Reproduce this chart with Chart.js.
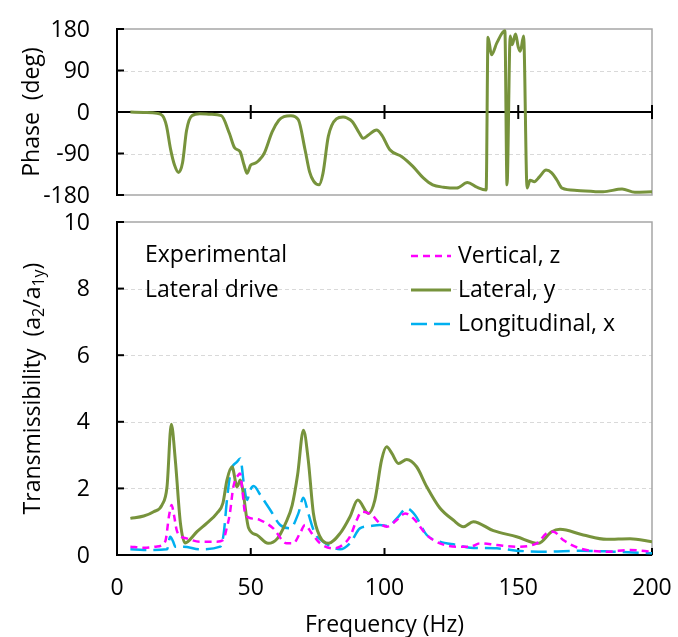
<!DOCTYPE html>
<html>
<head>
<meta charset="utf-8">
<script src="https://cdn.jsdelivr.net/npm/chart.js@4.4.1/dist/chart.umd.min.js"></script>
<style>
  html, body { margin: 0; padding: 0; background: #fff; }
  #wrap { position: relative; width: 678px; height: 637px; }
  canvas { position: absolute; left: 0; }
  #phaseChart { top: 0; }
  #transChart { top: 205px; }
</style>
</head>
<body>
<div id="wrap">
  <canvas id="phaseChart" width="678" height="205"></canvas>
  <canvas id="transChart" width="678" height="432"></canvas>
</div>
<script>
// phase of the lateral response (deg)
const phaseFreq = [5, 10, 15, 17, 18.5, 20, 21.5, 23, 24.5, 26, 28, 31, 35, 39, 42, 44, 46, 47.5, 48.6, 50,
  51.7, 53, 55, 58, 60.5, 62.4, 65, 67.8, 70.3, 72, 73.5, 75.5, 77, 79, 82, 84.5, 86, 88, 90.5, 92,
  94, 97, 99, 102, 106.5, 110.6, 114.5, 118, 122, 127, 131, 134.5, 138, 138.7, 140, 142, 145, 145.8, 147, 147.7,
  149, 150, 150.8, 152, 153.3, 154.4, 156, 158, 160.4, 162.5, 164.5, 166.4, 172, 181.7, 188.8, 193.6, 200];
const phaseDeg = [0, -1, -3, -8, -30, -80, -115, -131, -110, -40, -8, -4, -5, -8, -46, -78, -86, -115, -133, -115,
  -111, -105, -90, -43, -18, -10, -8, -17, -82, -130, -150, -158, -133, -53, -15, -11, -13, -21, -45, -57,
  -50, -39, -50, -82, -97, -118, -143, -158, -163, -165, -153, -163, -169, 162, 124, 150, 176, -158, 165, 146,
  169, 141, 132, 165, -165, -148, -151, -140, -126, -132, -148, -165, -170, -173, -167, -174, -173];

// transmissibility, vertical z
const vertFreq = [5, 10, 14.6, 18, 19.5, 20.4, 21.3, 22.3, 24, 26, 31, 37.3, 39.7, 41, 42.2, 43.5, 45.3, 46, 46.8, 47.9,
  50.3, 53.5, 58.4, 63.4, 65.9, 68.4, 70.3, 72.8, 75.9, 80.9, 83.4, 87.1, 89.6, 91.5, 95.2, 98.3, 100.8, 104.6, 107.7, 110.8,
  115.8, 120.7, 127, 132, 135.7, 142, 149.4, 156.9, 160.6, 163.1, 166.8, 173, 183, 191.8, 200];
const vertT = [0.25, 0.22, 0.25, 0.4, 1.2, 1.5, 1.2, 0.75, 0.55, 0.5, 0.4, 0.4, 0.45, 0.8, 1.25, 2.05, 2.4, 2.45, 2.0, 1.25,
  1.1, 1.05, 0.8, 0.35, 0.35, 0.65, 0.9, 0.65, 0.35, 0.2, 0.25, 0.55, 1.05, 1.3, 1.2, 0.95, 0.85, 1.05, 1.25, 1.1,
  0.6, 0.35, 0.25, 0.25, 0.35, 0.3, 0.25, 0.35, 0.65, 0.7, 0.45, 0.2, 0.1, 0.15, 0.1];

// transmissibility, lateral y
const latFreq = [5, 10, 13.7, 16.8, 18.7, 20.3, 21.8, 23.7, 25.5, 26.5, 29.9, 33.6, 37.4, 39.6, 41.1, 43, 44.9, 46.1, 47, 49.2,
  52.3, 56.5, 60, 63, 65.5, 67.5, 69.7, 71.5, 73.4, 75.9, 79, 83.4, 87.1, 90, 94, 96.4, 98.9, 100.8, 102.7, 105.2,
  108.3, 112, 115.8, 120.7, 125.7, 129.5, 133.2, 140.7, 149.4, 157.5, 162.5, 165.6, 174.3, 183, 191.8, 200];
const latT = [1.1, 1.17, 1.3, 1.5, 2.05, 3.93, 2.85, 0.96, 0.36, 0.4, 0.7, 0.96, 1.26, 1.56, 2.25, 2.65, 2.05, 2.25, 1.96, 0.81,
  0.6, 0.35, 0.5, 0.95, 1.5, 2.4, 3.75, 2.85, 1.26, 0.55, 0.35, 0.65, 1.15, 1.65, 1.25, 1.65, 2.85, 3.25, 3.06, 2.75,
  2.87, 2.65, 2.05, 1.41, 1.05, 0.85, 1.0, 0.73, 0.55, 0.35, 0.7, 0.77, 0.6, 0.47, 0.49, 0.4];

// transmissibility, longitudinal x
const longFreq = [5, 10, 18.7, 19.9, 21, 21.8, 24.9, 31, 38.6, 39.9, 41.1, 42.5, 44.9, 46.1, 47.4, 48.6, 49.8, 51.1, 53.6, 57.3,
  61, 64.8, 67.8, 69.7, 71.5, 74, 77.1, 83.4, 87.1, 90.8, 94.6, 98.3, 101.4, 104.6, 108.3, 111.4, 115.8, 120.7, 127, 132,
  142, 149.4, 160.6, 173, 185.5, 200];
const longT = [0.17, 0.15, 0.17, 0.55, 0.4, 0.25, 0.25, 0.17, 0.25, 0.65, 1.65, 2.5, 2.8, 2.9, 2.15, 1.65, 1.95, 2.07, 1.8, 1.35,
  0.9, 0.8, 1.25, 1.72, 1.25, 0.65, 0.4, 0.17, 0.35, 0.8, 0.87, 0.9, 0.87, 1.1, 1.4, 1.2, 0.6, 0.4, 0.3, 0.22,
  0.2, 0.13, 0.1, 0.13, 0.1, 0.05];

const freqTicks = [0, 50, 100, 150, 200];
const phaseTicks = [-180, -90, 0, 90, 180];
const transTicks = [0, 2, 4, 6, 8, 10];

const FONT = "'Open Sans', 'Noto Sans', sans-serif";
const TEXT = '23px ' + FONT;
const GREEN = '#77933C';
const MAGENTA = '#FF00FF';
const CYAN = '#00B0F0';

const toPoints = (xs, ys) => xs.map((x, i) => ({ x: x, y: ys[i] }));

// gray frame, black axes, inward tick marks and tick labels
const framePlugin = {
  id: 'frame',
  beforeDatasetsDraw(chart, args, opts) {
    const { ctx, chartArea: a, scales } = chart;
    const seg = (x1, y1, x2, y2) => { ctx.beginPath(); ctx.moveTo(x1, y1); ctx.lineTo(x2, y2); ctx.stroke(); };
    ctx.save();
    ctx.strokeStyle = '#d9d9d9';
    ctx.lineWidth = 1;
    ctx.setLineDash([4, 3]);
    opts.gridTicks.forEach(v => {
      const y = Math.round(scales.y.getPixelForValue(v)) + 0.5;
      seg(a.left, y, a.right, y);
    });
    ctx.setLineDash([]);

    ctx.strokeStyle = '#a6a6a6';
    ctx.lineWidth = 1.5;
    ctx.beginPath();
    ctx.moveTo(a.left, a.top);
    ctx.lineTo(a.right, a.top);
    ctx.lineTo(a.right, a.bottom);
    ctx.lineTo(a.left, a.bottom);
    ctx.stroke();

    ctx.strokeStyle = '#000';
    ctx.lineWidth = 2;
    seg(a.left, a.top - 1, a.left, a.bottom + 1);
    opts.yTicks.forEach(v => {
      const y = scales.y.getPixelForValue(v);
      seg(a.left, y, a.left + 7, y);
    });
    const yb = scales.y.getPixelForValue(opts.baseValue);
    seg(a.left, yb, a.right, yb);
    freqTicks.slice(1).forEach(v => {
      const x = scales.x.getPixelForValue(v);
      seg(x, yb - 7, x, yb + (opts.crossTicks ? 7 : 0));
    });

    ctx.fillStyle = '#000';
    ctx.font = TEXT;
    ctx.textAlign = 'right';
    ctx.textBaseline = 'middle';
    opts.yTicks.forEach(v => {
      ctx.fillText(String(v), a.left - 27, scales.y.getPixelForValue(v) + 1);
    });
    if (opts.xLabels) {
      ctx.textAlign = 'center';
      freqTicks.forEach(v => {
        ctx.fillText(String(v), scales.x.getPixelForValue(v), a.bottom + 33);
      });
    }
    ctx.restore();
  }
};

// rotated y title made of pieces, some set as subscripts
function drawYTitle(ctx, cx, cy, pieces) {
  const small = '16px ' + FONT;
  ctx.save();
  ctx.translate(cx, cy);
  ctx.rotate(-Math.PI / 2);
  ctx.fillStyle = '#000';
  ctx.textBaseline = 'middle';
  ctx.textAlign = 'left';
  let total = 0;
  pieces.forEach(p => { ctx.font = p.sub ? small : TEXT; total += ctx.measureText(p.t).width; });
  let x = -total / 2;
  pieces.forEach(p => {
    ctx.font = p.sub ? small : TEXT;
    ctx.fillText(p.t, x, p.sub ? 6 : 0);
    x += ctx.measureText(p.t).width;
  });
  ctx.restore();
}

const phaseTitle = {
  id: 'phaseTitle',
  afterDraw(chart) {
    drawYTitle(chart.ctx, 32, (chart.chartArea.top + chart.chartArea.bottom) / 2, [{ t: 'Phase  (deg)' }]);
  }
};

const transTitles = {
  id: 'transTitles',
  afterDraw(chart) {
    const { ctx, chartArea: a } = chart;
    drawYTitle(ctx, 33, (a.top + a.bottom) / 2, [
      { t: 'Transmissibility  (a' }, { t: '2', sub: true }, { t: '/a' }, { t: '1y', sub: true }, { t: ')' }
    ]);
    ctx.save();
    ctx.fillStyle = '#000';
    ctx.font = TEXT;
    ctx.textAlign = 'center';
    ctx.textBaseline = 'middle';
    ctx.fillText('Frequency (Hz)', (a.left + a.right) / 2, 420);

    // notes and legend inside the plot
    ctx.textAlign = 'left';
    ctx.fillText('Experimental', 145, 50);
    ctx.fillText('Lateral drive', 145, 85);
    chart.data.datasets.forEach((ds, i) => {
      const y = 51 + i * 34;
      ctx.strokeStyle = ds.borderColor;
      ctx.lineWidth = ds.borderWidth;
      ctx.setLineDash(ds.borderDash || []);
      ctx.beginPath();
      ctx.moveTo(411, y);
      ctx.lineTo(451, y);
      ctx.stroke();
      ctx.fillText(ds.label, 458, y);
    });
    ctx.restore();
  }
};

// nudge layout padding until the plot area sits where wanted
function placeArea(chart, box) {
  for (let i = 0; i < 3; i++) {
    const a = chart.chartArea;
    const p = chart.options.layout.padding;
    p.top += box.top - a.top;
    p.bottom += a.bottom - box.bottom;
    p.right += a.right - box.right;
    chart.update();
  }
}

const phaseChart = new Chart(document.getElementById('phaseChart'), {
  type: 'line',
  data: {
    datasets: [{
      label: 'Phase',
      data: toPoints(phaseFreq, phaseDeg),
      borderColor: GREEN,
      borderWidth: 3,
      pointRadius: 0,
      cubicInterpolationMode: 'monotone'
    }]
  },
  options: {
    responsive: false,
    animation: false,
    layout: { padding: { left: 0, right: 26, top: 29, bottom: 10 } },
    plugins: {
      legend: { display: false },
      tooltip: { enabled: false },
      frame: { yTicks: phaseTicks, gridTicks: [-90, 90], baseValue: 0, crossTicks: true, xLabels: false }
    },
    scales: {
      x: { type: 'linear', display: false, min: 0, max: 200 },
      y: {
        min: -180, max: 180,
        afterFit: s => { s.width = 117; },
        border: { display: false },
        grid: { display: false, drawTicks: false },
        ticks: { display: false }
      }
    }
  },
  plugins: [framePlugin, phaseTitle]
});
placeArea(phaseChart, { top: 29, bottom: 195, right: 652 });

const transChart = new Chart(document.getElementById('transChart'), {
  type: 'line',
  data: {
    datasets: [{
      label: 'Vertical, z',
      data: toPoints(vertFreq, vertT),
      borderColor: MAGENTA,
      borderWidth: 2.5,
      borderDash: [7, 5],
      pointRadius: 0,
      cubicInterpolationMode: 'monotone'
    }, {
      label: 'Lateral, y',
      data: toPoints(latFreq, latT),
      borderColor: GREEN,
      borderWidth: 3,
      pointRadius: 0,
      cubicInterpolationMode: 'monotone'
    }, {
      label: 'Longitudinal, x',
      data: toPoints(longFreq, longT),
      borderColor: CYAN,
      borderWidth: 2.5,
      borderDash: [16, 7],
      pointRadius: 0,
      cubicInterpolationMode: 'monotone'
    }]
  },
  options: {
    responsive: false,
    animation: false,
    layout: { padding: { left: 0, right: 26, top: 17, bottom: 0 } },
    plugins: {
      legend: { display: false },
      tooltip: { enabled: false },
      frame: { yTicks: transTicks, gridTicks: [2, 4, 6, 8], baseValue: 0, crossTicks: false, xLabels: true }
    },
    scales: {
      x: {
        type: 'linear', min: 0, max: 200,
        afterFit: s => { s.height = 82; },
        border: { display: false },
        grid: { display: false, drawTicks: false },
        ticks: { display: false }
      },
      y: {
        min: 0, max: 10,
        afterFit: s => { s.width = 117; },
        border: { display: false },
        grid: { display: false, drawTicks: false },
        ticks: { display: false }
      }
    }
  },
  plugins: [framePlugin, transTitles]
});
placeArea(transChart, { top: 17, bottom: 350, right: 652 });
</script>
</body>
</html>
